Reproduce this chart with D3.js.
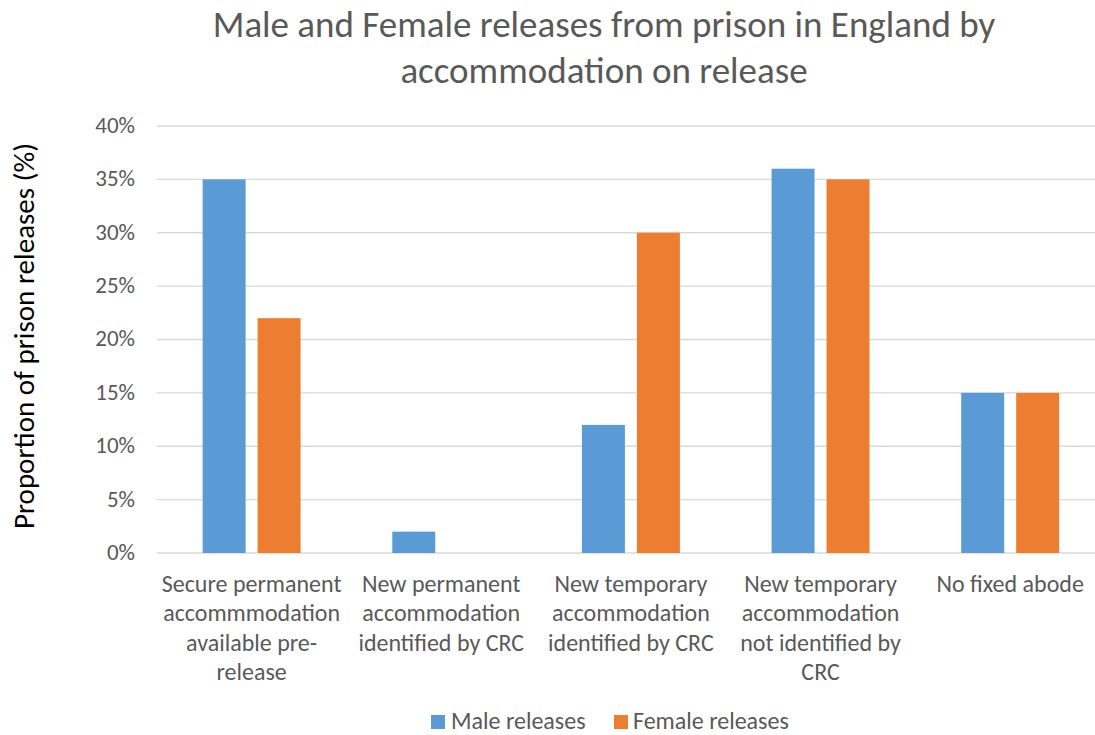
<!DOCTYPE html>
<html>
<head>
<meta charset="utf-8">
<script src="https://cdn.jsdelivr.net/npm/d3@7"></script>
<style>
  html, body { margin: 0; padding: 0; background: #ffffff; }
  svg { display: block; font-family: "Carlito", "Calibri", "Open Sans", sans-serif; }
</style>
</head>
<body>
<svg id="chart" width="1095" height="735"></svg>
<script>
// Categories (each given as its wrapped lines) and the two series, in %
const categories = [
  ["Secure permanent", "accommmodation", "available pre-", "release"],
  ["New permanent", "accommodation", "identified by CRC"],
  ["New temporary", "accommodation", "identified by CRC"],
  ["New temporary", "accommodation", "not identified by", "CRC"],
  ["No fixed abode"]
];
const seriesNames = ["Male releases", "Female releases"];
const maleValues = [35, 2, 12, 36, 15];
const femaleValues = [22, 0, 30, 35, 15];
const yTicks = [0, 5, 10, 15, 20, 25, 30, 35, 40];
const titleLines = ["Male and Female releases from prison in England by", "accommodation on release"];
const yAxisTitle = "Proportion of prison releases (%)";

const colors = { "Male releases": "#5B9BD5", "Female releases": "#ED7D31" };
const textColor = "#595959";
const gridColor = "#D9D9D9";

const svg = d3.select("#chart");
const plot = { left: 156.8, right: 1105, top: 126, bottom: 553 };

const catKeys = categories.map((c, i) => i);
const x = d3.scaleBand().domain(catKeys).range([plot.left, plot.right]).padding(0);
const x1 = d3.scaleBand().domain(seriesNames).range([0, x.bandwidth()])
  .paddingInner(0.218).paddingOuter(0.834);
const y = d3.scaleLinear().domain([0, 40]).range([plot.bottom, plot.top]);

// Horizontal gridlines
svg.append("g").selectAll("line").data(yTicks).join("line")
  .attr("x1", plot.left).attr("x2", plot.right)
  .attr("y1", d => y(d)).attr("y2", d => y(d))
  .attr("stroke", gridColor).attr("stroke-width", 1.3);

// Y axis labels
const yAxis = d3.axisLeft(y).tickValues(yTicks).tickFormat(d => d + "%").tickSize(0).tickPadding(0);
const yg = svg.append("g").attr("transform", `translate(135,0)`).call(yAxis);
yg.select(".domain").remove();
yg.selectAll("text").attr("fill", textColor).attr("font-size", 23)
  .attr("font-family", "Carlito, Calibri, 'Open Sans', sans-serif")
  .attr("dy", "0.28em");

// Bars
const rows = catKeys.map(i => ({ i, values: [
  { key: seriesNames[0], value: maleValues[i] },
  { key: seriesNames[1], value: femaleValues[i] }
]}));
const groups = svg.append("g").selectAll("g").data(rows).join("g")
  .attr("transform", d => `translate(${x(d.i)},0)`);
groups.selectAll("rect").data(d => d.values.filter(v => v.value > 0)).join("rect")
  .attr("x", d => x1(d.key))
  .attr("width", x1.bandwidth())
  .attr("y", d => y(d.value))
  .attr("height", d => y(0) - y(d.value))
  .attr("fill", d => colors[d.key]);

// Category labels
const xl = svg.append("g");
categories.forEach((lines, i) => {
  const cx = x(i) + x.bandwidth() / 2;
  const t = xl.append("text").attr("text-anchor", "middle")
    .attr("fill", textColor).attr("font-size", 24);
  lines.forEach((ln, k) => {
    t.append("tspan").attr("x", cx).attr("y", 592 + k * 29.4).text(ln);
  });
});

// Title
const tt = svg.append("text").attr("text-anchor", "middle")
  .attr("fill", textColor).attr("font-size", 37);
titleLines.forEach((ln, k) => {
  tt.append("tspan").attr("x", 604).attr("y", 37 + k * 45.5).text(ln);
});

// Y axis title
svg.append("text")
  .attr("transform", "translate(34,336) rotate(-90)")
  .attr("text-anchor", "middle").attr("fill", "#000000").attr("font-size", 29)
  .text(yAxisTitle);

// Legend
const legendItems = [
  { key: seriesNames[0], sx: 431, tx: 451 },
  { key: seriesNames[1], sx: 614, tx: 633 }
];
const lg = svg.append("g");
legendItems.forEach(it => {
  lg.append("rect").attr("x", it.sx).attr("y", 715).attr("width", 14).attr("height", 14)
    .attr("fill", colors[it.key]);
  lg.append("text").attr("x", it.tx).attr("y", 729).attr("fill", textColor)
    .attr("font-size", 24).text(it.key);
});
</script>
</body>
</html>
